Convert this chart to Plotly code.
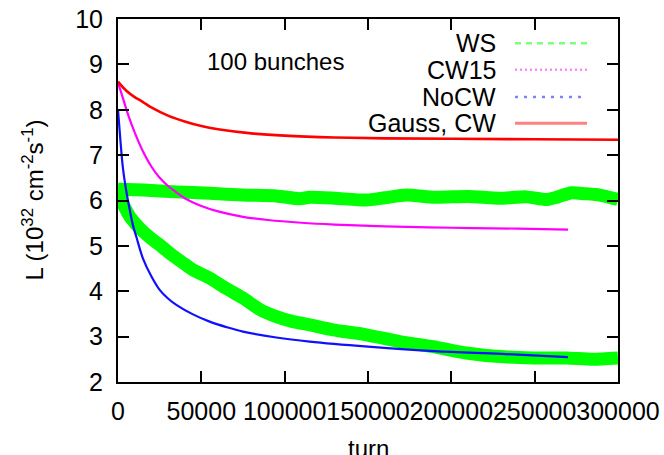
import plotly.graph_objects as go

# Luminosity vs. turn for 100 bunches
gauss_turn = [0, 5000, 10000, 15000, 20000, 30000, 40000, 50000, 60000, 80000,
              100000, 130000, 160000, 200000, 250000, 300000]
gauss_lum = [8.62, 8.42, 8.28, 8.17, 8.05, 7.87, 7.74, 7.64, 7.57, 7.48,
             7.43, 7.39, 7.37, 7.36, 7.35, 7.34]

cw15_turn = [0, 3000, 6000, 10000, 15000, 20000, 25000, 30000, 35000, 40000,
             50000, 60000, 75000, 90000, 110000, 130000, 160000, 200000, 240000, 270000]
cw15_lum = [8.6, 8.25, 7.9, 7.5, 7.08, 6.75, 6.5, 6.32, 6.18, 6.05,
            5.88, 5.76, 5.64, 5.57, 5.51, 5.47, 5.43, 5.40, 5.38, 5.36]

nocw_turn = [0, 1500, 3000, 5000, 7000, 9000, 11000, 15000, 20000, 25000, 30000,
             35000, 45000, 55000, 65000, 75000, 95000, 115000, 150000, 190000, 230000, 270000]
nocw_lum = [8.0, 7.3, 6.7, 6.2, 5.8, 5.45, 5.2, 4.72, 4.33, 4.03, 3.84,
            3.7, 3.49, 3.33, 3.21, 3.11, 2.98, 2.89, 2.78, 2.68, 2.62, 2.55]

ws_hi_turn = [0, 15000, 35000, 55000, 75000, 95000, 109000, 115000, 130000, 149000,
              160000, 173000, 190000, 210000, 229000, 245000, 257000, 264000, 272000,
              280000, 289000, 300000]
ws_hi_lum = [6.25, 6.23, 6.19, 6.16, 6.12, 6.1, 6.04, 6.07, 6.05, 6.01,
             6.06, 6.12, 6.07, 6.09, 6.05, 6.08, 6.02, 6.08, 6.17, 6.15, 6.12, 6.02]

ws_lo_turn = [0, 1000, 4000, 7200, 11000, 15200, 20000, 25000, 30000, 35000, 40000,
              45000, 55000, 65000, 75000, 85000, 95000, 105000, 115000, 129000, 149000,
              169000, 189000, 209000, 229000, 249000, 269000, 285000, 300000]
ws_lo_lum = [6.22, 6.12, 5.85, 5.64, 5.47, 5.31, 5.16, 5.02, 4.87, 4.73, 4.6,
             4.47, 4.29, 4.06, 3.85, 3.6, 3.44, 3.33, 3.26, 3.15, 3.04,
             2.89, 2.78, 2.64, 2.56, 2.53, 2.53, 2.5, 2.53]

x_ticks = [0, 50000, 100000, 150000, 200000, 250000, 300000]
y_ticks = [2, 3, 4, 5, 6, 7, 8, 9, 10]

legend_names = ["WS", "CW15", "NoCW", "Gauss, CW"]

FONT = "Liberation Sans, Arial, Helvetica, sans-serif"
GREEN = "#00ff00"

fig = go.Figure()

for tx, ly in ((ws_hi_turn, ws_hi_lum), (ws_lo_turn, ws_lo_lum)):
    fig.add_trace(go.Scatter(x=tx, y=ly, mode="lines",
                             line=dict(color=GREEN, width=13, shape="spline",
                                       smoothing=0.6),
                             showlegend=False))

fig.add_trace(go.Scatter(x=cw15_turn, y=cw15_lum, mode="lines",
                         line=dict(color="#ff00ff", width=2.2, shape="spline"),
                         showlegend=False))
fig.add_trace(go.Scatter(x=nocw_turn, y=nocw_lum, mode="lines",
                         line=dict(color="#1010ff", width=2.2, shape="spline"),
                         showlegend=False))
fig.add_trace(go.Scatter(x=gauss_turn, y=gauss_lum, mode="lines",
                         line=dict(color="#ff0000", width=2.6, shape="spline"),
                         showlegend=False))

# Hand-built key: label on the left, line sample on the right
key_styles = [
    dict(color="#7dff7d", width=2.5, dash="6px,5px"),
    dict(color="#ff88ff", width=2.5, dash="2px,3px"),
    dict(color="#8080ff", width=2.5, dash="3px,6px"),
    dict(color="#ff8080", width=3, dash="solid"),
]
key_rows = [0.933, 0.860, 0.785, 0.713]
for name, style, yr in zip(legend_names, key_styles, key_rows):
    fig.add_annotation(x=0.76, y=yr, xref="paper", yref="paper", text=name,
                       showarrow=False, xanchor="right", yanchor="middle",
                       font=dict(family=FONT, size=25, color="black"))
    fig.add_shape(type="line", xref="paper", yref="paper",
                  x0=0.794, x1=0.938, y0=yr, y1=yr, line=style)

fig.add_annotation(x=0.314, y=0.882, xref="paper", yref="paper", text="100 bunches",
                   showarrow=False, xanchor="center", yanchor="middle",
                   font=dict(family=FONT, size=24, color="black"))

# Axis titles placed as text so they sit where the frame leaves room
fig.add_annotation(x=0.5, y=-0.182, xref="paper", yref="paper", text="turn",
                   showarrow=False, xanchor="center", yanchor="middle",
                   font=dict(family=FONT, size=24, color="black"))
fig.add_annotation(x=-0.172, y=0.5, xref="paper", yref="paper",
                   text="L (10<sup>32</sup> cm<sup>-2</sup>s<sup>-1</sup>)",
                   textangle=-90, showarrow=False, xanchor="center", yanchor="middle",
                   font=dict(family=FONT, size=24, color="black"))

axis_common = dict(
    showline=True, linecolor="black", linewidth=2, mirror="ticks",
    ticks="inside", ticklen=11, tickwidth=2, tickcolor="black",
    showgrid=False, zeroline=False, automargin=False,
    tickfont=dict(family=FONT, size=25, color="black"),
)

fig.update_xaxes(range=[0, 300000], tickvals=x_ticks,
                 ticktext=[str(v) for v in x_ticks], tickangle=0,
                 ticklabelstandoff=6, **axis_common)
fig.update_yaxes(range=[2, 10], tickvals=y_ticks, ticklabelstandoff=8,
                 **axis_common)

fig.update_layout(
    width=664, height=455,
    margin=dict(l=118, r=46, t=19, b=73),
    paper_bgcolor="white", plot_bgcolor="white",
    showlegend=False,
)

fig.write_html("out.html")
